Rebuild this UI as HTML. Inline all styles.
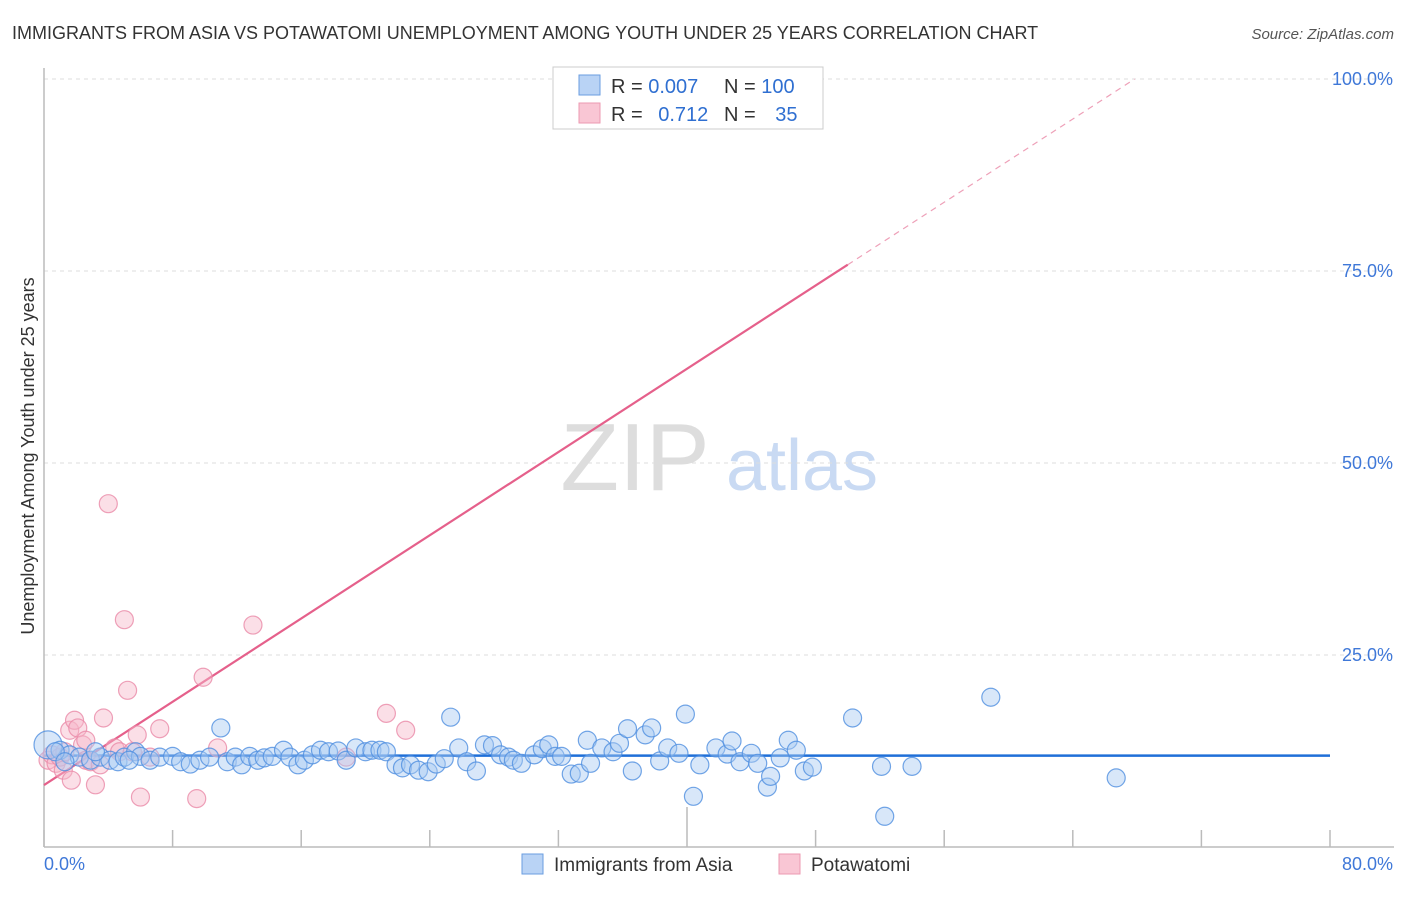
<!DOCTYPE html>
<html><head><meta charset="utf-8"><style>
body{margin:0;background:#fff;font-family:"Liberation Sans",sans-serif;}
svg text{font-family:"Liberation Sans",sans-serif;}
</style></head><body>
<svg id="chart" width="1406" height="892" xmlns="http://www.w3.org/2000/svg">
<text x="12" y="39" font-size="18" fill="#333">IMMIGRANTS FROM ASIA VS POTAWATOMI UNEMPLOYMENT AMONG YOUTH UNDER 25 YEARS CORRELATION CHART</text>
<text x="1394" y="39" font-size="15" fill="#555" font-style="italic" text-anchor="end">Source: ZipAtlas.com</text>
<g>
<text x="635" y="490" font-size="96" fill="#ddd" text-anchor="middle" font-family="Liberation Serif">ZIP</text>
<text x="802" y="490" font-size="72" fill="#c9daf3" text-anchor="middle">atlas</text>
</g>
<g id="grid"></g>
<g id="axes"></g>
<text transform="translate(34,456) rotate(-90)" font-size="18" fill="#333" text-anchor="middle">Unemployment Among Youth under 25 years</text>
<g id="lines"></g>
<g id="pts"></g>
<g>
<rect x="553" y="67" width="270" height="62" fill="#fff" stroke="#ccc"/>
<rect x="579" y="75" width="21" height="20" fill="#b9d3f5" stroke="#6a9ee0"/>
<rect x="579" y="103" width="21" height="20" fill="#f9c6d4" stroke="#ec9ab2"/>
<text x="611" y="93" font-size="20" fill="#333">R = <tspan fill="#2f6fd1">0.007</tspan></text>
<text x="724" y="93" font-size="20" fill="#333">N = <tspan fill="#2f6fd1">100</tspan></text>
<text x="611" y="121" font-size="20" fill="#333">R = <tspan fill="#2f6fd1" dx="10">0.712</tspan></text>
<text x="724" y="121" font-size="20" fill="#333">N = <tspan fill="#2f6fd1" dx="14">35</tspan></text>
</g>
<g>
<rect x="522" y="854" width="21" height="20" fill="#b9d3f5" stroke="#6a9ee0"/>
<text x="554" y="871" font-size="19" fill="#333">Immigrants from Asia</text>
<rect x="779" y="854" width="21" height="20" fill="#f9c6d4" stroke="#ec9ab2"/>
<text x="811" y="871" font-size="19" fill="#333">Potawatomi</text>
</g>
</svg>
<script>
const asiaX=[0.25,1.0,1.6,2.2,2.9,3.5,4.1,4.6,5.0,5.7,6.0,6.6,7.2,8.0,8.5,9.1,9.7,10.3,11.0,11.4,11.9,12.3,12.8,13.3,13.7,14.2,14.9,15.3,15.8,16.2,16.7,17.2,17.7,18.3,18.8,19.4,20.0,20.4,20.9,21.3,21.9,22.3,22.8,23.3,23.9,24.4,24.9,25.3,25.8,26.3,26.9,27.4,27.9,28.4,28.9,29.2,29.7,30.5,31.0,31.4,31.8,32.2,32.8,33.3,33.8,34.0,34.7,35.4,35.8,36.3,36.6,37.4,37.8,38.3,38.8,39.5,39.9,40.4,40.8,41.8,42.5,42.8,43.3,44.0,44.4,45.0,45.2,45.8,46.3,46.8,47.3,47.8,50.3,52.1,52.3,54.0,58.9,66.7,0.7,1.3,3.2,5.3];
const asiaY=[13.3,12.6,12.0,11.7,11.3,11.7,11.3,11.1,11.7,12.4,11.8,11.3,11.7,11.8,11.1,10.8,11.3,11.7,15.5,11.1,11.7,10.7,11.8,11.3,11.6,11.8,12.6,11.7,10.7,11.3,12.0,12.6,12.4,12.5,11.3,12.9,12.4,12.6,12.6,12.4,10.7,10.3,10.7,10.0,9.8,10.8,11.5,16.9,12.9,11.1,9.9,13.3,13.2,12.0,11.7,11.3,10.9,12.0,12.8,13.3,11.8,11.8,9.5,9.6,13.9,10.9,12.9,12.4,13.5,15.4,9.9,14.6,15.5,11.2,12.9,12.2,17.3,6.6,10.7,12.9,12.1,13.8,11.1,12.2,10.9,7.8,9.2,11.6,13.9,12.6,9.9,10.4,16.8,10.5,4.0,10.5,19.5,9.0,12.4,11.1,12.4,11.3];
const potX=[0.25,0.5,0.75,1.0,1.2,1.3,1.6,1.7,1.9,2.1,2.4,2.6,2.6,2.9,3.2,3.5,3.7,4.0,4.4,4.7,5.0,5.2,5.5,5.8,6.0,6.6,7.2,9.5,9.9,10.8,13.0,18.8,21.3,22.5,43.2];
const potY=[11.3,12.0,10.9,11.7,10.0,12.4,15.2,8.7,16.5,15.5,13.3,13.9,11.3,11.1,8.1,10.7,16.8,44.7,12.9,12.4,29.6,20.4,12.4,14.6,6.5,11.7,15.4,6.3,22.1,12.9,28.9,11.7,17.4,15.2,100];
const yTicks=[25,50,75,100];
const yTickLabels=["25.0%","50.0%","75.0%","100.0%"];
const xTicks=[0,8,16,24,32,40,48,56,64,72,80];
const asiaFit=[11.9,11.9];
const potIntercept=8.07, potSlope=1.355, potSolidEnd=50;

const NS="http://www.w3.org/2000/svg";
const sx=v=>44+v*16.075;
const sy=v=>847-v*7.68;
function mk(tag,attrs,parent){const e=document.createElementNS(NS,tag);for(const k in attrs)e.setAttribute(k,attrs[k]);parent.appendChild(e);return e;}
const grid=document.getElementById('grid'),axes=document.getElementById('axes'),lines=document.getElementById('lines'),pts=document.getElementById('pts');
yTicks.forEach((t,i)=>{
  const l=mk('line',{x1:44,x2:1394,y1:sy(t),y2:sy(t),stroke:'#ddd','stroke-dasharray':'4,4'},grid);
  
  
  const tx=mk('text',{x:1393,y:sy(t)+6,'font-size':18,fill:'#3f78d8','text-anchor':'end'},axes);
  tx.textContent=yTickLabels[i];
  
  
});
const ya=mk('line',{x1:44,x2:44,y1:68,y2:847,stroke:'#bbb','stroke-width':1.5},axes);


const xa=mk('line',{x1:44,x2:1394,y1:847,y2:847,stroke:'#bbb','stroke-width':1.5},axes);


xTicks.forEach(t=>{
  const tk=mk('line',{x1:sx(t),x2:sx(t),y1:t===40?807:830,y2:847,stroke:'#bbb','stroke-width':1.5},axes);
  
  
});
const xl0=mk('text',{x:44,y:870,'font-size':18,fill:'#3f78d8'},axes);xl0.textContent='0.0%';


const xl1=mk('text',{x:1393,y:870,'font-size':18,fill:'#3f78d8','text-anchor':'end'},axes);xl1.textContent='80.0%';



function dot(x,y,r,fill,stroke,name){
  const c=mk('circle',{cx:sx(x),cy:sy(y),r:r,fill:fill,'fill-opacity':0.45,stroke:stroke,'stroke-opacity':0.8,'stroke-width':1.2},pts);
  
  
}
potX.forEach((x,i)=>dot(x,potY[i],9,'#f7b7c9','#ea8aa7','potawatomi-point'));
asiaX.forEach((x,i)=>dot(x,asiaY[i],i===0?14:9,'#a9c9f1','#4f8ee0','asia-point'));

const bl=mk('line',{x1:sx(0),x2:sx(80),y1:sy(asiaFit[0]),y2:sy(asiaFit[1]),stroke:'#1f6fd8','stroke-width':2.5},lines);


const pEnd=(100-potIntercept)/potSlope;
const pl=mk('line',{x1:sx(0),y1:sy(potIntercept),x2:sx(potSolidEnd),y2:sy(potIntercept+potSlope*potSolidEnd),stroke:'#e5608b','stroke-width':2.2},lines);


const pd=mk('line',{x1:sx(potSolidEnd),y1:sy(potIntercept+potSlope*potSolidEnd),x2:sx(pEnd),y2:sy(100),stroke:'#eea0b8','stroke-width':1.2,'stroke-dasharray':'6,5'},lines);


</script>
</body></html>
